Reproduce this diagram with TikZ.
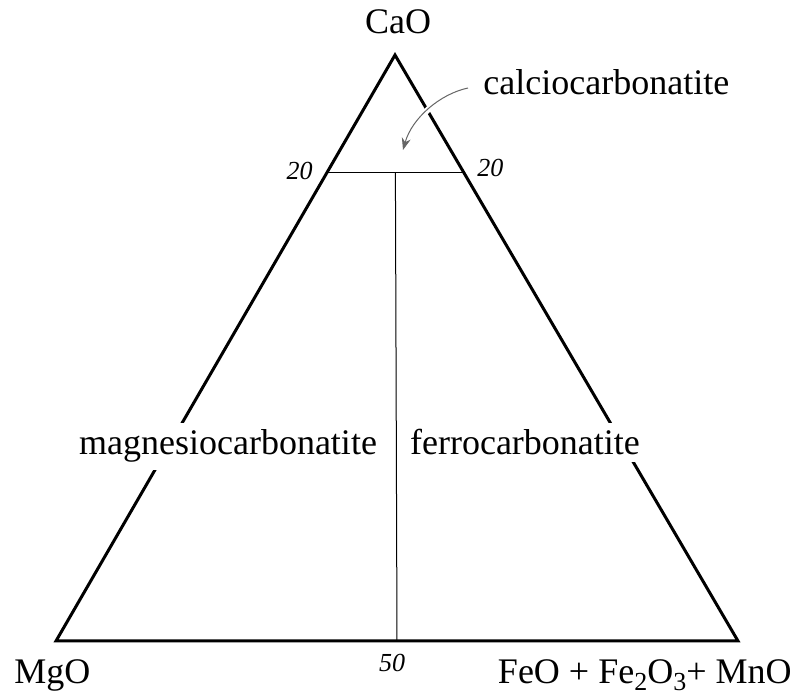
\documentclass[tikz,border=0pt]{standalone}
\usepackage{fontspec}
\setmainfont{Liberation Serif}
\usetikzlibrary{arrows.meta, positioning, calc}
\tikzset{
    edge/.style={line width=1.5pt, line join=miter},
    field/.style={line width=0.5pt},
    oxide/.style={font=\fontsize{18}{20}\selectfont, anchor=base, inner sep=0pt},
    rock/.style={font=\fontsize{18}{20}\selectfont, anchor=base, fill=white,
        inner xsep=2pt, inner ysep=3.5pt},
    tick/.style={font=\fontsize{13}{15}\selectfont\itshape, anchor=base, inner sep=0pt},
    pointer/.style={-{Stealth[length=6pt, width=4.5pt]}, gray!80!black, line width=0.5pt,
        preaction={draw=white, line width=3pt, -}},
}
\newcommand{\lowsub}[1]{\raisebox{-0.45ex}{\fontsize{13}{15}\selectfont #1}}

\begin{document}
\begin{tikzpicture}[x=0.5pt, y=-0.5pt]
        \useasboundingbox (0,0) rectangle (794,695);

        % Kampai
        \coordinate (Ca) at (395,55);
        \coordinate (Mg) at (56,641);
        \coordinate (Fe) at (738,641);
        \coordinate (L20) at ($(Ca)!0.2!(Mg)$);
        \coordinate (R20) at ($(Ca)!0.2!(Fe)$);
        \coordinate (T50) at ($(L20)!0.5!(R20)$);
        \coordinate (B50) at ($(Mg)!0.5!(Fe)$);

        % Trikampis ir ribos
        \draw[edge] (Ca) -- (Mg) -- (Fe) -- cycle;
        \draw[field] (L20) -- (R20);
        \draw[field] (T50) -- (B50);

        % Oksidai
        \node[oxide] (CaO) at (398,34) {CaO};
        \node[oxide, anchor=base west] (MgO) at (14,683) {MgO};
        \node[oxide, anchor=base east] (FeMn) at (792,683)
            {FeO + Fe\lowsub{2}O\lowsub{3}+ MnO};

        % Skalės žymos
        \node[tick, anchor=base east] (t20l) at (313,180) {20};
        \node[tick, anchor=base west] (t20r) at (477,177) {20};
        \node[tick] (t50) at (392,672) {50};

        % Karbonatitų laukai
        \node[rock] (magnesio) at (228,455) {magnesiocarbonatite};
        \node[rock] (ferro) at (525,455) {ferrocarbonatite};
        \node[oxide, anchor=base west] (calcio) at (483,95) {calciocarbonatite};
        \coordinate (calcioOut) at (468,88);
        \coordinate (calcioIn) at (403,150);

        \draw[pointer] (calcioOut) .. controls (440,94) and (412,118) .. (calcioIn);
    \end{tikzpicture}
\end{document}
